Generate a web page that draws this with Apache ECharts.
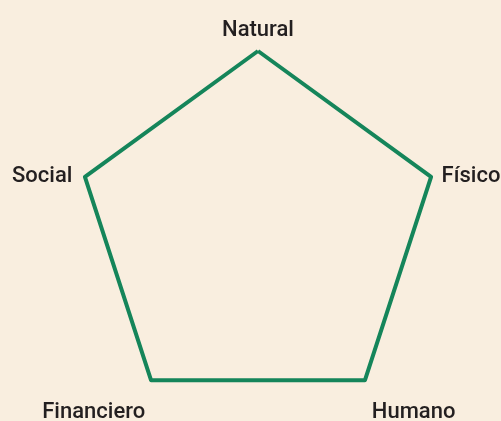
<!DOCTYPE html>
<html lang="es">
<head>
    <meta charset="UTF-8">
    <title>radar</title>
    <script src="https://cdn.jsdelivr.net/npm/echarts@6.0.0/dist/echarts.min.js"></script>
    <style>
        html, body { margin: 0; padding: 0; background: #f9eedf; }
    </style>
</head>
<body>
<div id="main" style="width: 501px;height:421px;"></div>
<script>
    // indicadores y valores (orden antihorario desde arriba)
    var indicators = ["Natural", "Social", "Financiero", "Humano", "Físico"];
    var maxValues = [100, 100, 100, 100, 100];
    var values = [100, 100, 100, 100, 100];

    // ajuste de cada etiqueta (rich padding)
    var labelPad = {
        "Natural": [0, 0, 0, 0],
        "Físico": [5, 0, 0, 1],
        "Humano": [48, 0, 0, 1],
        "Financiero": [48, 0, 0, 0],
        "Social": [5, 3, 0, 0]
    };
    var keys = ["n0", "n1", "n2", "n3", "n4"];
    var rich = {};
    indicators.forEach(function (name, i) {
        rich[keys[i]] = {
            padding: labelPad[name],
            color: '#231f20',
            fontSize: 22,
            fontWeight: 500,
            fontFamily: 'Roboto'
        };
    });

    var chart = echarts.init(document.getElementById("main"));
    var option = {
        backgroundColor: '#f9eedf',
        animation: false,
        radar: {
            center: [258, 233],
            radius: 182,
            startAngle: 90,
            nameGap: 10,
            indicator: indicators.map(function (name, i) {
                return {name: name, max: maxValues[i]};
            }),
            axisName: {
                color: '#231f20',
                fontSize: 22,
                fontWeight: 500,
                fontFamily: 'Roboto',
                formatter: function (name) {
                    var i = indicators.indexOf(name);
                    return '{' + keys[i] + '|' + name + '}';
                },
                rich: rich
            },
            splitNumber: 1,
            splitLine: {show: false},
            splitArea: {show: false},
            axisLine: {show: false},
            axisTick: {show: false},
            axisLabel: {show: false}
        },
        series: [{
            type: 'radar',
            symbol: 'none',
            lineStyle: {
                color: '#15855a',
                width: 4
            },
            data: [{value: values}]
        }]
    };
    chart.setOption(option);
</script>
</body>
</html>
